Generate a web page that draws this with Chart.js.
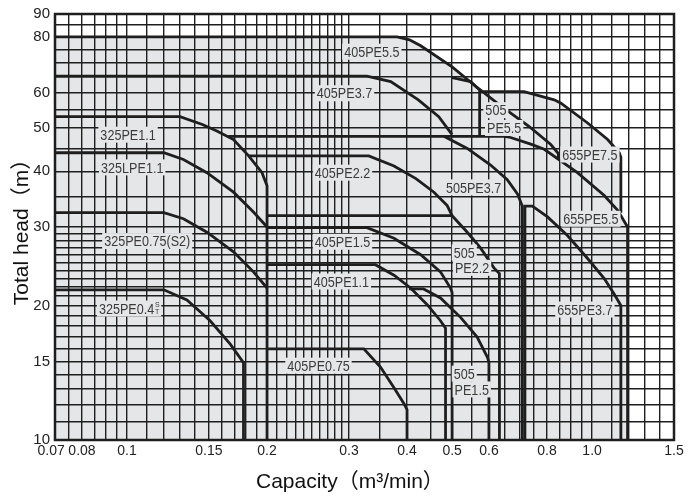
<!DOCTYPE html>
<html>
<head>
<meta charset="utf-8">
<script src="https://cdn.jsdelivr.net/npm/chart.js@4.4.1/dist/chart.umd.min.js"></script>
<style>
  html, body { margin: 0; padding: 0; background: #fff; }
  #wrap { width: 696px; height: 500px; }
</style>
</head>
<body>
<div id="wrap"><canvas id="myChart" width="696" height="500"></canvas></div>
<script>
'use strict';

// grid lines of the chart paper (log / log)
const xGrid = [0.07, 0.075, 0.08, 0.085, 0.09, 0.095, 0.1, 0.11, 0.12, 0.13, 0.14, 0.15, 0.16, 0.17, 0.18, 0.19,
  0.2, 0.21, 0.22, 0.23, 0.24, 0.25, 0.26, 0.27, 0.28, 0.29, 0.3, 0.35, 0.4, 0.45, 0.5, 0.55, 0.6, 0.65,
  0.7, 0.75, 0.8, 0.85, 0.9, 0.95, 1.0, 1.1, 1.2, 1.3, 1.4, 1.5];
const yGrid = [10, 11, 12, 13, 14, 15, 16, 17, 18, 19, 20, 21, 22, 23, 24, 25, 26, 27, 28, 29, 30,
  35, 40, 45, 50, 55, 60, 65, 70, 75, 80, 85, 90];

const xTickVals = [0.07, 0.08, 0.1, 0.15, 0.2, 0.3, 0.4, 0.5, 0.6, 0.8, 1.0, 1.5];
const xTickText = ['0.07  ', '0.08', '0.1', '0.15', '0.2', '0.3', '0.4', '0.5', '0.6', '0.8', '1.0', '1.5'];
const yTickVals = [10, 15, 20, 30, 40, 50, 60, 80, 90];
const yTickText = ['10', '15', '20', '30', '40', '50', '60', '80', '90'];

// pump range boundaries, [capacity m3/min, head m]
const c325PE11 = [[0.07, 53], [0.13, 53], [0.1452, 50.9], [0.156, 49.2], [0.1694, 47.1], [0.1826, 43.3], [0.1951, 39.7], [0.2, 37.1], [0.2, 10]];
const c325LPE11 = [[0.07, 44], [0.12, 44], [0.1322, 42.5], [0.1485, 39.7], [0.1694, 35.9], [0.187, 32.4], [0.2, 30]];
const c325PE075 = [[0.07, 32.3], [0.12, 32.3], [0.1322, 31.3], [0.1485, 29.2], [0.1694, 26.4], [0.187, 23.8], [0.2, 21.9]];
const c325PE04 = [[0.07, 21.7], [0.12, 21.7], [0.1345, 20.6], [0.1509, 18.5], [0.1667, 16.4], [0.178, 14.9], [0.178, 10]];

const c405PE55 = [[0.07, 80], [0.381, 80], [0.405, 78.8], [0.428, 76.4], [0.5, 68.5], [0.562, 62], [0.63, 56.5], [0.73, 50.5], [0.815, 45.9], [0.846, 43.8], [0.846, 42.7]];
const c405PE37 = [[0.07, 65.3], [0.328, 65.3], [0.369, 63.5], [0.423, 57.8], [0.468, 53], [0.5, 48.3]];
const c405PE37b = [[0.5, 64.8], [0.548, 63.5], [0.573, 60.8], [0.573, 47.9]];
const c405PE22 = [[0.183, 43.3], [0.331, 43.3], [0.375, 41.1], [0.418, 38.5], [0.457, 35.9], [0.488, 33.5], [0.5, 31.8]];
const c405PE15 = [[0.2, 29.9], [0.328, 29.9], [0.375, 28.3], [0.428, 26], [0.472, 23.8], [0.496, 21.9], [0.5, 21.4], [0.5, 10]];
const c405PE11 = [[0.2, 24.7], [0.342, 24.7], [0.375, 23.4], [0.407, 21.9], [0.442, 20.1], [0.472, 18.5], [0.484, 17.8], [0.484, 10]];
const c405PE075 = [[0.2, 16], [0.323, 16], [0.351, 14.55], [0.375, 13.1], [0.394, 12.06], [0.4, 11.7], [0.4, 10]];

const c505PE37 = [[0.48, 47.9], [0.539, 45], [0.605, 41.3], [0.657, 38.3], [0.691, 35.6], [0.708, 33.4], [0.708, 10]];
const c505PE22 = [[0.2, 31.8], [0.5, 31.8], [0.539, 29.2], [0.576, 26.9], [0.615, 24.3], [0.632, 23.6], [0.632, 10]];
const c505PE15 = [[0.404, 21.8], [0.434, 21.8], [0.472, 20.8], [0.522, 18.8], [0.566, 17], [0.596, 15.3], [0.6, 14.9], [0.6, 10]];

const c655PE75 = [[0.575, 60.3], [0.714, 60.3], [0.829, 57.8], [0.857, 56.8], [0.978, 51.3], [1.08, 47.1], [1.144, 44], [1.153, 43], [1.153, 32.3]];
const c655PE55 = [[0.165, 47.9], [0.647, 47.9], [0.668, 47.6], [0.738, 46], [0.789, 44.8], [0.93, 39.7], [1.062, 35.3], [1.135, 32.7], [1.192, 30], [1.192, 10]];
const c655PE37 = [[0.717, 10], [0.717, 33.4], [0.744, 33.4], [0.802, 31.6], [0.885, 28.7], [0.978, 25.5], [1.062, 23], [1.116, 21.2], [1.144, 20.3], [1.153, 20], [1.153, 10]];

const curves = [c405PE55, c655PE75, c655PE55, c655PE37, c405PE37, c405PE37b, c405PE22, c405PE15, c405PE11, c405PE075,
  c505PE37, c505PE22, c505PE15, c325PE11, c325LPE11, c325PE075, c325PE04];

// model names, placed at [capacity, head]
const curveLabels = [
  {text: '405PE5.5', x: 0.336, y: 74.1},
  {text: '405PE3.7', x: 0.2935, y: 59.8},
  {text: '325PE1.1', x: 0.1005, y: 48.3},
  {text: '325LPE1.1', x: 0.1026, y: 40.8},
  {text: '325PE0.75(S2)', x: 0.1105, y: 27.9},
  {text: '325PE0.4', x: 0.101, y: 19.7, st: true},
  {text: '405PE2.2', x: 0.2906, y: 39.7},
  {text: '405PE1.5', x: 0.2906, y: 27.8},
  {text: '405PE1.1', x: 0.289, y: 22.65},
  {text: '405PE0.75', x: 0.258, y: 14.67},
  {text: '505', x: 0.621, y: 54.8},
  {text: 'PE5.5', x: 0.647, y: 50.0},
  {text: '655PE7.5', x: 0.989, y: 43.6},
  {text: '505PE3.7', x: 0.556, y: 36.8},
  {text: '655PE5.5', x: 0.994, y: 31.3},
  {text: '505', x: 0.531, y: 26.3},
  {text: 'PE2.2', x: 0.552, y: 24.3},
  {text: '655PE3.7', x: 0.965, y: 19.6},
  {text: '505', x: 0.531, y: 14.08},
  {text: 'PE1.5', x: 0.551, y: 12.98},
];

const fillGray = '#e5e6e8';
const ink = '#1e1e1e';
const sans = '"Liberation Sans", Arial, sans-serif';
const squeeze = 0.84;

function tickText(vals, texts) {
  return (value) => {
    const i = vals.findIndex((v) => Math.abs(v - value) < 1e-9);
    return i >= 0 ? texts[i] : '';
  };
}

const paperPlugin = {
  id: 'paper',
  afterDatasetsDraw(chart) {
    const {ctx, scales: {x, y}} = chart;
    ctx.save();
    ctx.font = '15px ' + sans;
    ctx.textBaseline = 'middle';
    ctx.textAlign = 'center';
    for (const lab of curveLabels) {
      const px = x.getPixelForValue(lab.x);
      const py = y.getPixelForValue(lab.y);
      const extra = lab.st ? 5 : 0;
      const w = ctx.measureText(lab.text).width * squeeze + extra;
      ctx.fillStyle = fillGray;
      ctx.fillRect(px - w / 2 - 2, py - 8, w + 4, 16);
      ctx.fillStyle = '#3a3a3a';
      ctx.save();
      ctx.translate(px - extra / 2, py + 1);
      ctx.scale(squeeze, 1);
      ctx.fillText(lab.text, 0, 0);
      ctx.restore();
      if (lab.st) {
        ctx.font = '7px ' + sans;
        const sx = px + w / 2 - 2;
        ctx.fillText('S', sx, py - 3);
        ctx.fillText('T', sx, py + 4);
        ctx.font = '15px ' + sans;
      }
    }
    ctx.restore();
  },
  afterDraw(chart) {
    const {ctx, chartArea: a} = chart;
    ctx.save();
    ctx.strokeStyle = ink;
    ctx.lineWidth = 2.5;
    ctx.strokeRect(a.left, a.top, a.right - a.left, a.bottom - a.top);
    ctx.restore();
  }
};

new Chart(document.querySelector('#myChart'), {
  type: 'line',
  data: {
    datasets: curves.map((c) => ({
      data: c.map(([x, y]) => ({x, y})),
      borderColor: ink,
      borderWidth: 2.8,
      backgroundColor: fillGray,
      fill: 'start',
      pointRadius: 0,
      tension: 0,
    })),
  },
  options: {
    responsive: false,
    animation: false,
    layout: {padding: {top: 10, right: 22, left: 0, bottom: 0}},
    plugins: {
      legend: {display: false},
      tooltip: {enabled: false},
      filler: {propagate: false, drawTime: 'beforeDraw'},
    },
    scales: {
      x: {
        type: 'logarithmic',
        min: 0.07,
        max: 1.5,
        afterBuildTicks: (scale) => { scale.ticks = xGrid.map((v) => ({value: v})); },
        afterFit: (scale) => { scale.height = 60; },
        grid: {color: ink, lineWidth: 1.4, drawTicks: false},
        border: {display: false},
        ticks: {
          autoSkip: false, maxRotation: 0, minRotation: 0, padding: 3,
          color: '#222', font: {family: sans, size: 14},
          callback: tickText(xTickVals, xTickText),
        },
        title: {
          display: true,
          text: 'Capacity（m³/min）     ',
          color: '#111',
          font: {family: '"Liberation Sans", "Noto Sans CJK JP", Arial, sans-serif', size: 21},
          padding: {top: 0, bottom: 5},
        },
      },
      y: {
        type: 'logarithmic',
        min: 10,
        max: 90,
        afterBuildTicks: (scale) => { scale.ticks = yGrid.map((v) => ({value: v})); },
        afterFit: (scale) => { scale.width = 55; },
        grid: {color: ink, lineWidth: 1.4, drawTicks: false},
        border: {display: false},
        ticks: {
          autoSkip: false, padding: 5,
          color: '#222', font: {family: sans, size: 15},
          callback: tickText(yTickVals, yTickText),
        },
        title: {
          display: true,
          text: 'Total head（m）',
          color: '#111',
          font: {family: '"Liberation Sans", "Noto Sans CJK JP", Arial, sans-serif', size: 21},
          padding: {top: 10, bottom: 0},
        },
      },
    },
  },
  plugins: [paperPlugin],
});
</script>
</body>
</html>
